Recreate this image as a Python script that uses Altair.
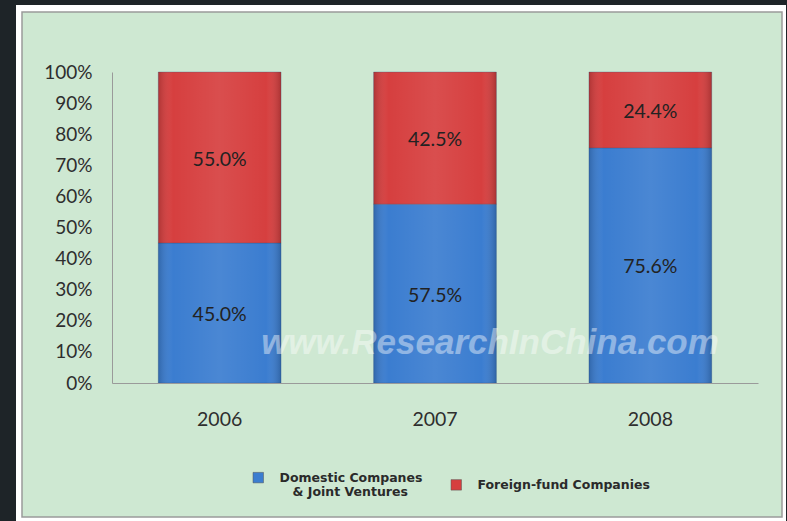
import altair as alt
import pandas as pd

years = ["2006", "2007", "2008"]
domestic = [45.0, 57.5, 75.6]
foreign = [55.0, 42.5, 24.4]
series = ["Domestic Companes & Joint Ventures", "Foreign-fund Companies"]
colors = ["#3b7dd0", "#d63f3f"]

rows = []
for i, y in enumerate(years):
    rows.append({"year": y, "series": series[0], "value": domestic[i], "order": 0})
    rows.append({"year": y, "series": series[1], "value": foreign[i], "order": 1})
df = pd.DataFrame(rows)

W, H = 646, 311
PL, PT = 112, 72

one = pd.DataFrame({"a": [0]})

frame = alt.Chart(one).mark_rect(fill="#ffffff").encode(
    x=alt.value(16 - PL), x2=alt.value(786 - PL),
    y=alt.value(5 - PT), y2=alt.value(522 - PT)
)
panel = alt.Chart(one).mark_rect(fill="#cee8d2", stroke="#9a9a9a", strokeWidth=1.5).encode(
    x=alt.value(22 - PL), x2=alt.value(782 - PL),
    y=alt.value(12 - PT), y2=alt.value(517 - PT)
)

base = alt.Chart(df)

xscale = alt.Scale(paddingInner=0.43, paddingOuter=0.215)
xaxis = alt.Axis(labelAngle=0, ticks=False, labelPadding=27, zindex=1,
                 labelFontSize=19.5, labelColor="#2e2e2e",
                 domainColor="#9a9a9a", labelFont="Lato")
yscale = alt.Scale(domain=[0, 100])
yaxis = alt.Axis(values=list(range(0, 101, 10)), labelExpr="datum.value + '%'",
                 ticks=False, grid=False, labelPadding=20, labelFontSize=19,
                 zindex=1, labelOverlap=False,
                 labelColor="#2e2e2e", domainColor="#9a9a9a", labelFont="Lato")

def X():
    return alt.X("year:N", sort=years, title=None, scale=xscale, axis=xaxis)

label_expr = ("datum.label == 'Domestic Companes & Joint Ventures' ? "
              "['Domestic Companes', '\u200b\u00a0\u00a0\u00a0& Joint Ventures'] : datum.label")

bars = base.mark_bar(stroke="#2c4f80", strokeWidth=0.6, strokeOpacity=0.5).encode(
    x=X(),
    y=alt.Y("value:Q", stack="zero", title=None, scale=yscale, axis=yaxis),
    color=alt.Color("series:N", sort=series,
                    scale=alt.Scale(domain=series, range=colors),
                    legend=alt.Legend(
                        title=None, orient="none", direction="horizontal",
                        legendX=140, legendY=399,
                        symbolType="square", symbolSize=110,
                        symbolStrokeColor="#555", symbolStrokeWidth=0.5,
                        labelFont="DejaVu Sans", labelFontSize=12.5, labelFontWeight="bold",
                        labelColor="#2a2a2a", labelLimit=300, columnPadding=27,
                        labelOffset=15,
                        labelExpr=label_expr)),
    order=alt.Order("order:Q"),
)

shade = base.mark_bar(
    fill=alt.Gradient(
        gradient="linear", x1=0, x2=1, y1=0, y2=0,
        stops=[alt.GradientStop(offset=0, color="rgba(0,0,0,0.18)"),
               alt.GradientStop(offset=0.12, color="rgba(255,255,255,0.0)"),
               alt.GradientStop(offset=0.5, color="rgba(255,255,255,0.08)"),
               alt.GradientStop(offset=0.88, color="rgba(255,255,255,0.0)"),
               alt.GradientStop(offset=1, color="rgba(0,0,0,0.2)")])
).encode(
    x=X(),
    y=alt.Y("value:Q", stack="zero", title=None, scale=yscale, axis=yaxis),
    order=alt.Order("order:Q"),
    detail="series:N",
)

labels = base.transform_stack(
    stack="value", groupby=["year"], as_=["y0", "y1"],
    sort=[alt.SortField("order", order="ascending")]
).transform_calculate(
    mid="(datum.y0 + datum.y1) / 2",
    lab="format(datum.value, '.1f') + '%'"
).mark_text(fontSize=19.5, color="#222222", font="Lato", dy=2).encode(
    x=X(),
    y=alt.Y("mid:Q", title=None, scale=yscale, axis=yaxis),
    text="lab:N",
)

wm = alt.Chart(one).mark_text(
    text="www.ResearchInChina.com", fontSize=35, fontStyle="italic", fontWeight="bold",
    font="Liberation Sans", color="#ffffff", opacity=0.42, align="center", baseline="middle"
).encode(x=alt.value(490 - PL), y=alt.value(343 - PT))

chart = alt.layer(frame, panel, bars, shade, labels, wm).properties(
    width=W, height=H,
    background="#1e2428",
    padding={"left": PL, "top": PT, "right": 787 - PL - W, "bottom": 521 - PT - H},
    autosize=alt.AutoSizeParams(type="none"),
).configure_view(stroke=None)

chart.save("out.html", embed_options={"renderer": "svg", "actions": False})
